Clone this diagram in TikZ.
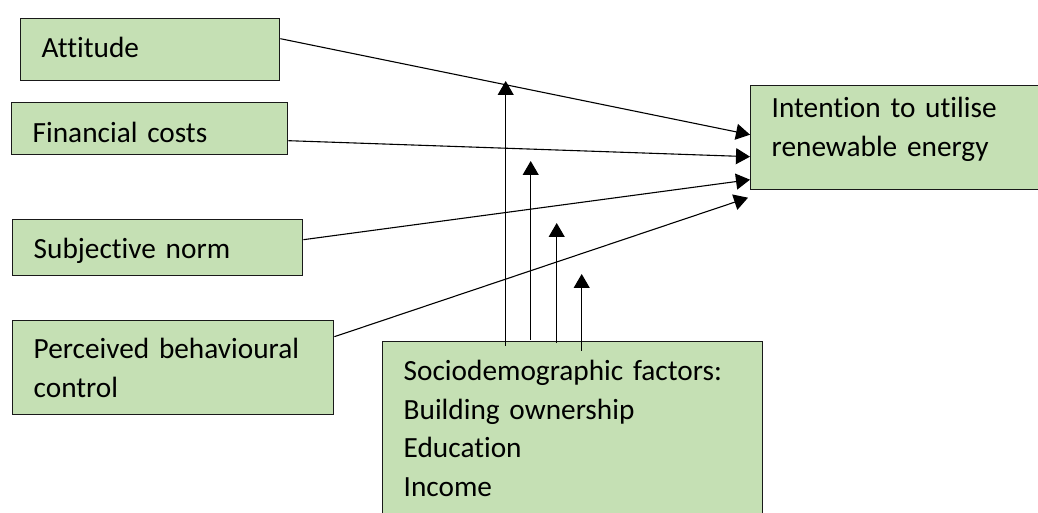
\documentclass[tikz,border=0pt]{standalone}
\usepackage{fontspec}
\setmainfont{Carlito}[Ligatures=NoCommon]
\usetikzlibrary{arrows.meta}
\definecolor{boxgreen}{HTML}{C5E0B4}

\begin{document}
\begin{tikzpicture}[%
  x=1pt, y=1pt,
  box/.style={draw=black!90, fill=boxgreen, line width=1.4pt, anchor=north west,
    inner xsep=21pt, inner ysep=0pt, align=left,
    font=\fontsize{29.3pt}{38.5pt}\selectfont},
  arr/.style={line width=1.1pt, -{Triangle[length=14pt,width=16pt]}}]
\useasboundingbox (0,0) rectangle (1038,513);
\clip (0,0) rectangle (1038,513);
% factor boxes
\node[box, text width=217pt, text height=39pt, text depth=23pt] (att) at (20,495) {Attitude};
\node[box, text width=234pt, text height=40pt, text depth=12pt] (fin) at (11,411) {Financial costs};
\node[box, text width=248pt, text height=39pt, text depth=17pt] (sub) at (12,294) {Subjective norm};
\node[box, text width=279pt, text height=38pt, text depth=56pt] (per) at (12,193) {Perceived behavioural\\control};
\node[box, text width=338pt, text height=39pt, text depth=165pt] (soc) at (382,172)
  {Sociodemographic factors:\\Building ownership\\Education\\Income};
\node[box, text width=246pt, text height=32pt, text depth=72pt] (int) at (750,428)
  {Intention to utilise\\renewable energy};
% paths to intention
\draw[arr] ([yshift=11pt]att.east) -- ([yshift=3pt]int.west);
\draw[arr] ([yshift=-12pt]fin.east) -- ([yshift=-19pt]int.west);
\draw[arr] ([yshift=8pt]sub.east) -- ([yshift=-42pt]int.west);
\draw[arr] ([yshift=31pt]per.east) -- ([xshift=-2pt,yshift=-60pt]int.west);
% moderating arrows
\foreach \i/\dx/\dy/\len in {1/-67/-5/260, 2/-42/1/180, 3/-16/-2/118, 4/9/-10/67} {
  \coordinate (m\i) at ([xshift=\dx pt,yshift=\len pt]soc.north);
  \draw[arr] ([xshift=\dx pt,yshift=\dy pt]soc.north) -- (m\i);
}
\end{tikzpicture}
\end{document}
